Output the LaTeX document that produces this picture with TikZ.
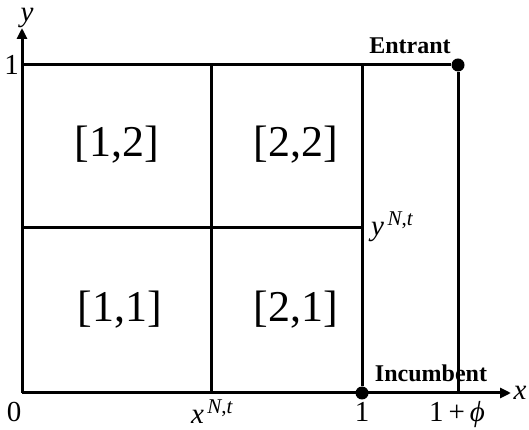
\documentclass[tikz,border=0pt]{standalone}
\usepackage{fontspec}
\setmainfont{Liberation Serif}
\usetikzlibrary{arrows.meta}
\newcommand{\vit}[1]{\textit{#1}}
\newcommand{\nsup}[1]{\vit{#1}\raisebox{.36em}{\fontsize{21}{22}\selectfont\,\vit{N},\vit{t}}}
\tikzset{
  axis/.style={line width=3pt,-{Triangle[length=11pt,width=10pt]}},
  grid line/.style={line width=3pt},
  cell/.style={font=\fontsize{44}{48}\selectfont},
  tick/.style={font=\fontsize{29}{31}\selectfont,inner sep=1pt},
  player/.style={font=\fontsize{24}{26}\selectfont\bfseries,inner sep=1pt},
  pt dot/.style={circle,fill,inner sep=0pt,minimum size=13pt}
}
\begin{document}
\begin{tikzpicture}[x=1pt,y=1pt]
  \useasboundingbox (0,0) rectangle (529,430);
  % corner points
  \coordinate (O) at (22,37);
  \coordinate (X) at (511,37);
  \coordinate (Y) at (22,402);
  \coordinate (TL) at (22,365);
  \coordinate (BR) at (458,37);
  \coordinate (XN) at (211,37);
  \coordinate (XNt) at (211,365);
  \coordinate (Mid) at (22,202);
  \coordinate (MidR) at (362,202);
  \coordinate (Top1) at (362,365);
  \node[pt dot] (inc) at (362,37) {};
  \node[pt dot] (ent) at (458,365) {};
  % axes
  \draw[axis] (O) -- (X);
  \draw[axis] (O) -- (Y);
  \node[tick,anchor=base,inner sep=0pt] (xlab) at (520,30) {\vit{x}};
  \node[tick,anchor=base,inner sep=0pt] (ylab) at (27,408) {\vit{y}};
  % partition
  \draw[grid line] (TL) -- (ent) -- (BR);
  \draw[grid line] (XN) -- (XNt);
  \draw[grid line] (inc) -- (Top1);
  \draw[grid line] (Mid) -- (MidR);
  % cells
  \node[cell] (c12) at (117,285) {[1,2]};
  \node[cell] (c22) at (296,285) {[2,2]};
  \node[cell] (c11) at (120,120) {[1,1]};
  \node[cell] (c21) at (296,120) {[2,1]};
  % tick labels
  \node[tick,anchor=base] (t0) at (14,8) {0};
  \node[tick,anchor=base] (t1) at (362,8) {1};
  \node[tick,anchor=base] (t1p) at (457,8) {1\,+\,\vit{ϕ}};
  \node[tick,anchor=base] (txn) at (212,6) {\nsup{x}};
  \node[tick,anchor=east] (ty1) at (20,365) {1};
  \node[tick,anchor=base west] (tyn) at (370,194) {\nsup{y}};
  % players
  \node[player,anchor=south] (entlab) at (410,375) {Entrant};
  \node[player,anchor=base] (inclab) at (431,48) {Incumbent};
\end{tikzpicture}
\end{document}
